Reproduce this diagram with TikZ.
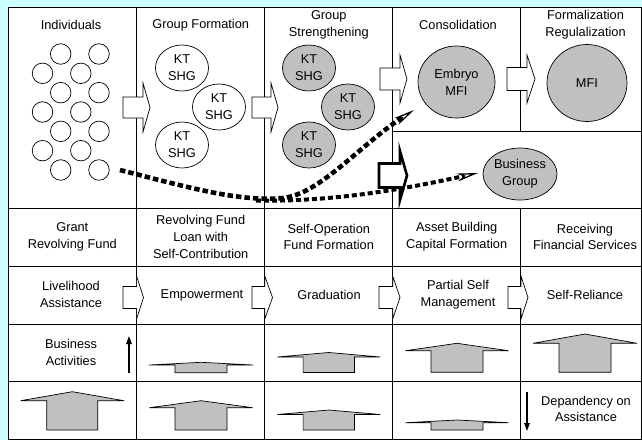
\documentclass[tikz,border=0pt]{standalone}
\usepackage{fontspec}
\setmainfont{Liberation Sans}
\usetikzlibrary{shapes.geometric,arrows.meta}
\definecolor{bgcyan}{RGB}{204,255,255}
\definecolor{boxgray}{RGB}{192,192,192}

% hollow arrow pointing right: body start, head base, tip, centre y, body half height, head half height
\newcommand\rightblock[7][blockarrow]{%
  \draw[#1] (#2,#5-#6) -- (#3,#5-#6) -- (#3,#5-#7) -- (#4,#5) -- (#3,#5+#7)
    -- (#3,#5+#6) -- (#2,#5+#6) -- cycle;}
% filled arrow pointing up: centre x, bottom, body half width, head base y, head half width, apex y
\newcommand\upblock[6]{%
  \draw[houseblock] (#1-#3,#2) -- (#1-#3,#4) -- (#1-#5,#4) -- (#1,#6) -- (#1+#5,#4)
    -- (#1+#3,#4) -- (#1+#3,#2) -- cycle;}

\begin{document}
\begin{tikzpicture}[x=1pt,y=-1pt,
  every node/.style={font=\fontsize{12.8}{16.8}\selectfont, align=center, inner sep=0pt},
  grid/.style={line width=0.8pt},
  person/.style={circle, draw, fill=white, minimum size=20.5pt, line width=0.7pt},
  shg/.style={ellipse, draw, line width=0.7pt, minimum width=53pt, minimum height=46pt},
  shgw/.style={shg, fill=white},
  shgg/.style={shg, fill=boxgray},
  blockarrow/.style={draw, fill=white, line width=0.7pt},
  boldarrow/.style={draw, fill=white, line width=2.6pt, line join=miter},
  houseblock/.style={draw, fill=boxgray, line width=0.7pt},
  dotpath/.style={line width=4.6pt, dash pattern=on 5.5pt off 3pt},
  dotpaththin/.style={line width=4pt, dash pattern=on 5pt off 3pt},
  tipstyle/.style={-{Stealth[length=21pt,width=8pt,inset=6pt,fill=white,line width=1.3pt]}},
  thinarrow/.style={line width=1.3pt, -{Triangle[length=8pt,width=5.5pt]}}
]
\useasboundingbox (0,0) rectangle (642,440);
\fill[bgcyan] (0,0) rectangle (642,440);
\fill[white] (8,7.3) rectangle (641,439);

% table rules
\draw[grid] (8,7.3) rectangle (641,439);
\draw[grid] (136.6,7.3) -- (136.6,439);
\draw[grid] (264.8,7.3) -- (264.8,439);
\draw[grid] (392.7,7.3) -- (392.7,439);
\draw[grid] (520.7,7.3) -- (520.7,131);
\draw[grid] (520.7,208.3) -- (520.7,439);
\draw[grid] (392.7,131) -- (641,131);
\draw[grid] (8,208.3) -- (641,208.3);
\draw[grid] (8,266) -- (641,266);
\draw[grid] (8,324.5) -- (641,324.5);
\draw[grid] (8,381.7) -- (641,381.7);

% column headings
\node (hInd) at (71,25) {Individuals};
\node (hGF) at (200.7,25) {Group Formation};
\node (hGS) at (328.8,25) {Group\\Strengthening};
\node (hCon) at (458,25) {Consolidation};
\node (hFor) at (585.5,25) {Formalization\\Regulalization};

% individuals
\foreach \r in {0,...,6}{
  \pgfmathsetmacro\yy{54+19.33*\r}
  \pgfmathsetmacro\xx{mod(\r,2)==0 ? 60.7 : 42.5}
  \node[person] (ind-\r-l) at (\xx,\yy) {};
  \node[person] (ind-\r-r) at (\xx+38.3,\yy) {};
}

% self-help groups
\node[shgw] (gf1) at (182,68) {KT\\SHG};
\node[shgw] (gf2) at (219,107) {KT\\SHG};
\node[shgw] (gf3) at (182,145) {KT\\SHG};
\node[shgg] (gs1) at (309,68) {KT\\SHG};
\node[shgg] (gs2) at (348,107) {KT\\SHG};
\node[shgg] (gs3) at (309,145) {KT\\SHG};
\node[ellipse, draw, fill=boxgray, line width=0.7pt, minimum width=77pt, minimum height=72pt] (emb) at (456.5,82) {Embryo\\MFI};
\node[ellipse, draw, fill=boxgray, line width=0.7pt, minimum width=80pt, minimum height=77pt] (mfi) at (587,83) {MFI};
\node[ellipse, draw, fill=boxgray, line width=0.7pt, minimum width=74pt, minimum height=52pt] (bg) at (520,174) {Business\\Group};

% stage arrows
\rightblock{123}{143}{150}{107.5}{10.5}{24.5}
\rightblock{252}{271}{278}{107.5}{10.5}{24.5}
\rightblock{380}{400}{407}{79}{11}{24}
\rightblock{507}{527}{535}{79}{11.5}{24}
\rightblock[boldarrow]{379}{400}{407}{175.5}{12}{24.5}

% paths to the institutions
\coordinate (dA0) at (120,170);
\coordinate (dA1) at (414,110);
\coordinate (dB0) at (256,200.5);
\coordinate (dB1) at (478,173);
\draw[dotpath, tipstyle] (dA0) .. controls (190,188) and (240,202) .. (283,198)
  .. controls (320,194) and (360,145) .. (dA1);
\draw[dotpaththin, tipstyle] (dB0) .. controls (330,202) and (400,190) .. (dB1);

% funding row
\node (f1) at (72.3,237) {Grant\\Revolving Fund};
\node (f2) at (200.7,237) {Revolving Fund\\Loan with\\Self-Contribution};
\node (f3) at (328.8,237) {Self-Operation\\Fund Formation};
\node (f4) at (456.7,237) {Asset Building\\Capital Formation};
\node (f5) at (585,237) {Receiving\\Financial Services};

% status row
\node (s1) at (71,294.5) {Livelihood\\Assistance};
\node (s2) at (202,295) {Empowerment};
\node (s3) at (329,295) {Graduation};
\node (s4) at (458,295) {Partial Self\\Management};
\node (s5) at (585,295) {Self-Reliance};
\rightblock{123}{136.6}{143.5}{297.5}{11}{21.5}
\rightblock{252}{264.8}{272.5}{297.5}{11}{21.5}
\rightblock{379}{392.7}{400}{297.5}{11}{21.5}
\rightblock{508}{521}{528}{297.5}{11}{21.5}

% business activities
\node (ba) at (71,352.5) {Business\\Activities};
\coordinate (ba0) at (129,373);
\coordinate (ba1) at (129,336);
\draw[thinarrow] (ba0) -- (ba1);
\upblock{201}{372.7}{26}{365}{52}{362.3}
\upblock{328.8}{372.5}{25.7}{357}{51.5}{352.5}
\upblock{457}{372.3}{26}{350.7}{51.5}{343.3}
\upblock{585}{372.3}{26}{343.3}{52}{334}

% dependency on assistance
\upblock{72.3}{430}{25.5}{400.7}{51.7}{391.7}
\upblock{201}{430}{26}{407.7}{51.7}{400.7}
\upblock{328.8}{430}{25.7}{414.5}{51.5}{410}
\upblock{457}{430}{26}{422.7}{51.5}{420}
\node (dep) at (586,409) {Depandency on\\Assistance};
\coordinate (dp0) at (527,392);
\coordinate (dp1) at (527,431);
\draw[thinarrow] (dp0) -- (dp1);
\end{tikzpicture}
\end{document}
